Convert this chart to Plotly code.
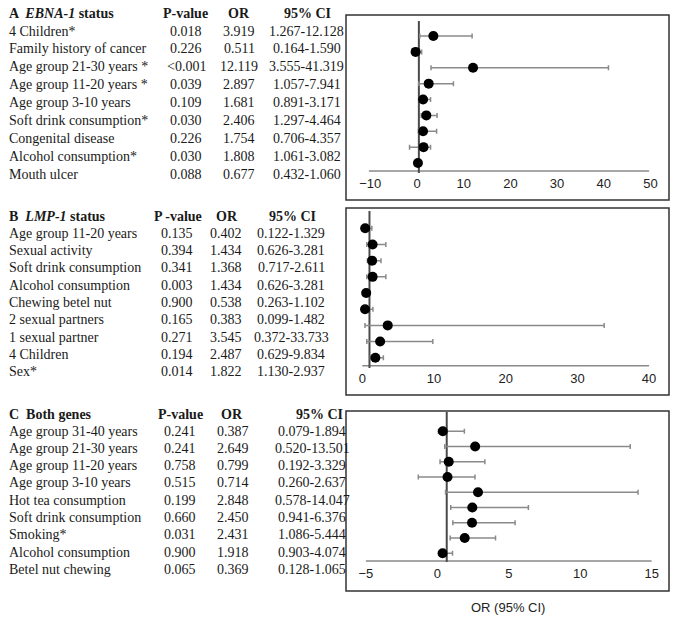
import plotly.graph_objects as go

W, H = 677, 617

# ---------------- Data ----------------
# Panel A: EBNA-1 status
a_labels = ["4 Children*", "Family history of cancer", "Age group 21-30 years *",
            "Age group 11-20 years *", "Age group 3-10 years", "Soft drink consumption*",
            "Congenital disease", "Alcohol consumption*", "Mouth ulcer"]
a_p = ["0.018", "0.226", "&lt;0.001", "0.039", "0.109", "0.030", "0.226", "0.030", "0.088"]
a_or = [3.919, 0.511, 12.119, 2.897, 1.681, 2.406, 1.754, 1.808, 0.677]
a_lo = [1.267, 0.164, 3.555, 1.057, 0.891, 1.297, 0.706, 1.061, 0.432]
a_hi = [12.128, 1.590, 41.319, 7.941, 3.171, 4.464, 4.357, 3.082, 1.060]
# points and interval ends as drawn in the forest plot
a_plot_or = [3.5, -0.3, 12.0, 2.5, 1.3, 2.0, 1.3, 1.4, 0.2]
a_plot_lo = [0.6, -0.3, 3.0, 0.4, 0.5, 0.9, 0.3, -1.6, 0.2]
a_plot_hi = [11.8, 1.0, 41.0, 7.8, 2.9, 4.3, 4.2, 2.9, 0.2]

# Panel B: LMP-1 status
b_labels = ["Age group 11-20 years", "Sexual activity", "Soft drink consumption", "Alcohol consumption",
            "Chewing betel nut", "2 sexual partners", "1 sexual partner", "4 Children", "Sex*"]
b_p = ["0.135", "0.394", "0.341", "0.003", "0.900", "0.165", "0.271", "0.194", "0.014"]
b_or = [0.402, 1.434, 1.368, 1.434, 0.538, 0.383, 3.545, 2.487, 1.822]
b_lo = [0.122, 0.626, 0.717, 0.626, 0.263, 0.099, 0.372, 0.629, 1.130]
b_hi = [1.329, 3.281, 2.611, 3.281, 1.102, 1.482, 33.733, 9.834, 2.937]
b_plot_or = b_or
b_plot_lo = b_lo
b_plot_hi = b_hi

# Panel C: Both genes
c_labels = ["Age group 31-40 years", "Age group 21-30 years", "Age group 11-20 years", "Age group 3-10 years",
            "Hot tea consumption", "Soft drink consumption", "Smoking*", "Alcohol consumption",
            "Betel nut chewing"]
c_p = ["0.241", "0.241", "0.758", "0.515", "0.199", "0.660", "0.031", "0.900", "0.065"]
c_or = [0.387, 2.649, 0.799, 0.714, 2.848, 2.450, 2.431, 1.918, 0.369]
c_lo = [0.079, 0.520, 0.192, 0.260, 0.578, 0.941, 1.086, 0.903, 0.128]
c_hi = [1.894, 13.501, 3.329, 2.637, 14.047, 6.376, 5.444, 4.074, 1.065]
c_plot_or = c_or
c_plot_lo = [0.079, 0.520, 0.192, -1.33, 0.578, 0.941, 1.086, 0.903, 0.128]
c_plot_hi = c_hi

# reference (vertical) line value of each forest plot
ref_lines = [0.4, 1.0, 0.66]
# axis tick values and baseline span
a_ticks = [-10, 0, 10, 20, 30, 40, 50]
b_ticks = [0, 10, 20, 30, 40]
c_ticks = [-5, 0, 5, 10, 15]
a_span = [-10.3, 49.7]
b_span = [0, 40]
c_span = [-5, 15]

titles = ["<b>A  <i>EBNA-1</i> status</b>", "<b>B  <i>LMP-1</i> status</b>", "<b>C  Both genes</b>"]
p_heads = ["<b>P-value</b>", "<b>P -value</b>", "<b>P-value</b>"]

# ---------------- Layout geometry (pixels) ----------------
panels = [
    dict(labels=a_labels, p=a_p, orv=a_or, lo=a_lo, hi=a_hi, por=a_plot_or, plo=a_plot_lo, phi=a_plot_hi,
         ticks=a_ticks, span=a_span, ref=ref_lines[0],
         box=(346, 15, 669, 200), x0=417.0, k=4.67, row1=36.0, sp=15.875, vline=(21, 173),
         thead=13, trow1=31, tsp=17.9, cols=(186, 239, 306.5), hcols=(185, 239, 307)),
    dict(labels=b_labels, p=b_p, orv=b_or, lo=b_lo, hi=b_hi, por=b_plot_or, plo=b_plot_lo, phi=b_plot_hi,
         ticks=b_ticks, span=b_span, ref=ref_lines[1],
         box=(346, 208, 669, 395), x0=362.3, k=7.17, row1=228.3, sp=16.18, vline=(211, 368),
         thead=216.7, trow1=233.3, tsp=17.3, cols=(177, 226.5, 291), hcols=(178, 227, 292)),
    dict(labels=c_labels, p=c_p, orv=c_or, lo=c_lo, hi=c_hi, por=c_plot_or, plo=c_plot_lo, phi=c_plot_hi,
         ticks=c_ticks, span=c_span, ref=ref_lines[2],
         box=(346, 411, 669, 591), x0=437.3, k=14.29, row1=431.3, sp=15.25, vline=(411, 562),
         thead=414, trow1=431, tsp=17.29, cols=(180, 233.5, 312), hcols=(180, 232, 319)),
]

SERIF = "Liberation Serif"
SANS = "Liberation Sans"
TXT = "#1a1a1a"


def xp(px):
    return px / W


def yp(py):
    return 1 - py / H


fig = go.Figure()
annotations = []
shapes = []
layout_axes = {}

for i, pn in enumerate(panels):
    n = i + 1
    xa = "x" if n == 1 else f"x{n}"
    ya = "y" if n == 1 else f"y{n}"
    L, T, R, B = pn["box"]

    def r_of(py, pn=pn):
        return 1 + (py - pn["row1"]) / pn["sp"]

    dl, dr = L + 1, R - 1
    dt, db = T + 1, B - 1
    xrange = [(dl - pn["x0"]) / pn["k"], (dr - pn["x0"]) / pn["k"]]
    yrange = [r_of(db), r_of(dt)]
    rows = list(range(1, len(pn["por"]) + 1))

    # baseline (horizontal axis line)
    fig.add_trace(go.Scatter(x=pn["span"], y=[9.5, 9.5], mode="lines",
                             line=dict(color="#8a8a8a", width=1.5),
                             xaxis=xa, yaxis=ya, hoverinfo="skip", showlegend=False))
    # reference vertical line
    fig.add_trace(go.Scatter(x=[pn["ref"], pn["ref"]], y=[r_of(pn["vline"][0]), r_of(pn["vline"][1])],
                             mode="lines", line=dict(color="#4a4a4a", width=2),
                             xaxis=xa, yaxis=ya, hoverinfo="skip", showlegend=False))
    # points with CI
    plus = [h - o for h, o in zip(pn["phi"], pn["por"])]
    minus = [o - l for o, l in zip(pn["por"], pn["plo"])]
    fig.add_trace(go.Scatter(x=pn["por"], y=rows, mode="markers",
                             marker=dict(color="black", size=10),
                             error_x=dict(type="data", symmetric=False, array=plus, arrayminus=minus,
                                          color="#8a8a8a", thickness=1.5, width=2.5),
                             xaxis=xa, yaxis=ya, hoverinfo="skip", showlegend=False))

    layout_axes["xaxis" if n == 1 else f"xaxis{n}"] = dict(
        domain=[xp(dl), xp(dr)], range=xrange, anchor="free", position=yp(pn["row1"] + 8.5 * pn["sp"]),
        showgrid=False, zeroline=False, showline=False, ticks="", tickvals=pn["ticks"],
        ticklabelstandoff=3,
        tickfont=dict(family=SANS, size=13, color="#222"), fixedrange=True)
    layout_axes["yaxis" if n == 1 else f"yaxis{n}"] = dict(
        domain=[yp(db), yp(dt)], range=yrange, visible=False, anchor=xa, fixedrange=True)

    # box
    shapes.append(dict(type="rect", xref="paper", yref="paper", x0=xp(L), x1=xp(R), y0=yp(B), y1=yp(T),
                       line=dict(color="#333", width=1.5), fillcolor="rgba(0,0,0,0)"))

    # table header
    annotations.append(dict(text=titles[i], x=xp(7), y=yp(pn["thead"]), xanchor="left", yanchor="middle"))
    for txt, cx in zip([p_heads[i], "<b>OR</b>", "<b>95% CI</b>"], pn["hcols"]):
        annotations.append(dict(text=txt, x=xp(cx), y=yp(pn["thead"]), xanchor="center", yanchor="middle"))
    # table rows
    for j in range(len(pn["labels"])):
        ry = yp(pn["trow1"] + j * pn["tsp"])
        annotations.append(dict(text=pn["labels"][j], x=xp(7), y=ry, xanchor="left", yanchor="middle"))
        vals = [pn["p"][j], f"{pn['orv'][j]:.3f}", f"{pn['lo'][j]:.3f}-{pn['hi'][j]:.3f}"]
        for txt, cx in zip(vals, pn["cols"]):
            annotations.append(dict(text=txt, x=xp(cx), y=ry, xanchor="center", yanchor="middle"))

for a in annotations:
    a.update(xref="paper", yref="paper", showarrow=False,
             font=dict(family=SERIF, size=14, color=TXT))

annotations.append(dict(text="OR (95% CI)", x=xp(508), y=yp(607), xref="paper", yref="paper",
                        showarrow=False, xanchor="center", yanchor="middle",
                        font=dict(family=SANS, size=13, color="#222")))

fig.update_layout(width=W, height=H, margin=dict(l=0, r=0, t=0, b=0),
                  paper_bgcolor="white", plot_bgcolor="rgba(0,0,0,0)",
                  annotations=annotations, shapes=shapes, showlegend=False, **layout_axes)

fig.write_html("out.html", config={"displayModeBar": False})
